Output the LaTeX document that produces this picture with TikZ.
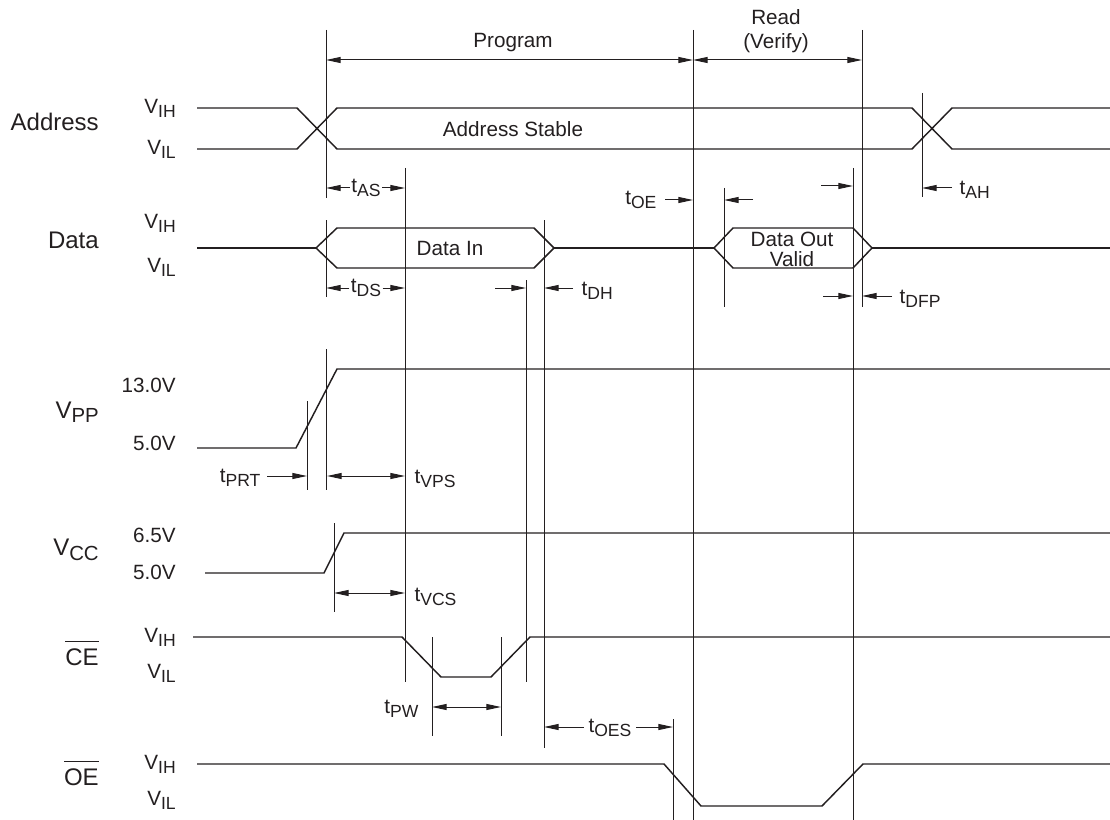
\documentclass[tikz,border=0pt]{standalone}
\usepackage{fontspec}
\setmainfont{Liberation Sans}
\usetikzlibrary{arrows.meta}
\newcommand{\sbs}[2]{#1\raisebox{-0.35ex}{\scalebox{0.85}{#2}}}
\definecolor{ink}{RGB}{35,31,32}
\begin{document}
\begin{tikzpicture}[x=0.75pt,y=-0.75pt,
  sigline/.style={line width=1.1pt,draw=ink,line join=miter},
  guide/.style={line width=0.75pt,draw=ink},
  dim/.style={line width=0.75pt,draw=ink,-{Triangle[length=11pt,width=4.5pt]}},
  ddim/.style={line width=0.75pt,draw=ink,{Triangle[length=11pt,width=4.5pt]}-{Triangle[length=11pt,width=4.5pt]}},
  lbl/.style={font=\fontsize{15.5}{18}\selectfont,text=ink,inner sep=1pt},
  sname/.style={font=\fontsize{18}{21}\selectfont,text=ink,anchor=east,inner sep=0pt},
  lvl/.style={lbl,anchor=east,inner sep=0pt}]
\useasboundingbox (0,0) rectangle (1110,820);

% ---------- guide (vertical) lines ----------
\draw[guide] (326,30) -- (326,198);
\draw[guide] (326,220) -- (326,297);
\draw[guide] (326,349) -- (326,490);
\draw[guide] (307,401) -- (307,490);
\draw[guide] (334,523) -- (334,612);
\draw[guide] (405,168) -- (405,682);
\draw[guide] (432,637) -- (432,736);
\draw[guide] (501,637) -- (501,736);
\draw[guide] (526,280) -- (526,682);
\draw[guide] (544,220) -- (544,748);
\draw[guide] (673,719) -- (673,820);
\draw[guide] (693,30) -- (693,820);
\draw[guide] (724,188) -- (724,307);
\draw[guide] (853,168) -- (853,820);
\draw[guide] (862,30) -- (862,307);
\draw[guide] (922,93) -- (922,197);

% ---------- top phase arrows ----------
\draw[ddim] (326,60) -- (693,60);
\draw[ddim] (693,60) -- (862,60);
\node[lbl] (prog) at (513,43) {Program};
\node[lbl] (read) at (776,17) {Read};
\node[lbl] (verify) at (776,43) {(Verify)};

% ---------- Address ----------
\node[sname] (addr) at (99,122) {Address};
\node[lvl] (aih) at (176,108) {\sbs{V}{IH}};
\node[lvl] (ail) at (176,149) {\sbs{V}{IL}};
\draw[sigline] (197,108) -- (297,108) -- (337,149) -- (912,149) -- (952,108) -- (1110,108);
\draw[sigline] (197,149) -- (297,149) -- (337,108) -- (912,108) -- (952,149) -- (1110,149);
\node[lbl] (astab) at (513,129) {Address Stable};

% timing labels address
\node[lbl] (tas) at (366,188) {\sbs{t}{AS}};
\draw[dim] (tas.west) -- (326,188);
\draw[dim] (tas.east) -- (405,188);
\node[lbl,anchor=east] (toe) at (658,200) {\sbs{t}{OE}};
\draw[dim] (665,200) -- (693,200);
\draw[dim] (753,200) -- (724,200);
\draw[dim] (821,186) -- (853,186);
\node[lbl,anchor=west] (tah) at (958,190) {\sbs{t}{AH}};
\draw[dim] (952,188) -- (922,188);

% ---------- Data ----------
\node[sname] (data) at (99,240) {Data};
\node[lvl] (dih) at (176,223) {\sbs{V}{IH}};
\node[lvl] (dil) at (176,267) {\sbs{V}{IL}};
\draw[sigline] (197,248) -- (316,248);
\draw[sigline] (316,248) -- (337,228) -- (534,228) -- (554,248) -- (534,268) -- (337,268) -- cycle;
\draw[sigline] (554,248) -- (714,248);
\draw[sigline] (714,248) -- (733,228) -- (853,228) -- (872,248) -- (853,268) -- (733,268) -- cycle;
\draw[sigline] (872,248) -- (1110,248);
\node[lbl] (din) at (450,248) {Data In};
\node[lbl,align=center,font=\fontsize{15.5}{15}\selectfont] (dout) at (792,249) {Data Out\\Valid};

\node[lbl] (tds) at (366,288) {\sbs{t}{DS}};
\draw[dim] (tds.west) -- (326,288);
\draw[dim] (tds.east) -- (405,288);
\draw[dim] (495,288) -- (526,288);
\draw[dim] (573,288) -- (544,288);
\node[lbl,anchor=west] (tdh) at (580,291) {\sbs{t}{DH}};
\draw[dim] (823,296) -- (853,296);
\draw[dim] (892,296) -- (862,296);
\node[lbl,anchor=west] (tdfp) at (898,299) {\sbs{t}{DFP}};

% ---------- VPP ----------
\node[sname] (vpp) at (99,412) {\sbs{V}{PP}};
\node[lvl] (v13) at (176,385) {13.0V};
\node[lvl] (v5a) at (176,443) {5.0V};
\draw[sigline] (197,448) -- (296,448) -- (337,369) -- (1110,369);
\node[lbl,anchor=east] (tprt) at (262,478) {\sbs{t}{PRT}};
\draw[dim] (267,476) -- (307,476);
\draw[ddim] (327,476) -- (405,476);
\node[lbl,anchor=west] (tvps) at (413,479) {\sbs{t}{VPS}};

% ---------- VCC ----------
\node[sname] (vcc) at (99,550) {\sbs{V}{CC}};
\node[lvl] (v65) at (176,535) {6.5V};
\node[lvl] (v5b) at (176,572) {5.0V};
\draw[sigline] (205,573) -- (324,573) -- (344,533) -- (1110,533);
\draw[ddim] (334,593) -- (405,593);
\node[lbl,anchor=west] (tvcs) at (413,597) {\sbs{t}{VCS}};

% ---------- CE ----------
\node[sname] (ce) at (99,653) {$\overline{\mbox{CE}\rule{0pt}{0.95em}}$};
\node[lvl] (cih) at (176,637) {\sbs{V}{IH}};
\node[lvl] (cil) at (176,673) {\sbs{V}{IL}};
\draw[sigline] (193,637) -- (402,637) -- (441,677) -- (491,677) -- (530,637) -- (1110,637);
\node[lbl,anchor=east] (tpw) at (420,709) {\sbs{t}{PW}};
\draw[ddim] (432,707) -- (501,707);
\node[lbl] (toes) at (610,728) {\sbs{t}{OES}};
\draw[dim] (toes.west) ++(-3,-1) -- (544,727);
\draw[dim] (toes.east) ++(3,-1) -- (673,727);

% ---------- OE ----------
\node[sname] (oe) at (99,773) {$\overline{\mbox{OE}\rule{0pt}{0.95em}}$};
\node[lvl] (oih) at (176,764) {\sbs{V}{IH}};
\node[lvl] (oil) at (176,800) {\sbs{V}{IL}};
\draw[sigline] (197,764) -- (664,764) -- (701,806) -- (822,806) -- (863,764) -- (1110,764);
\end{tikzpicture}
\end{document}
